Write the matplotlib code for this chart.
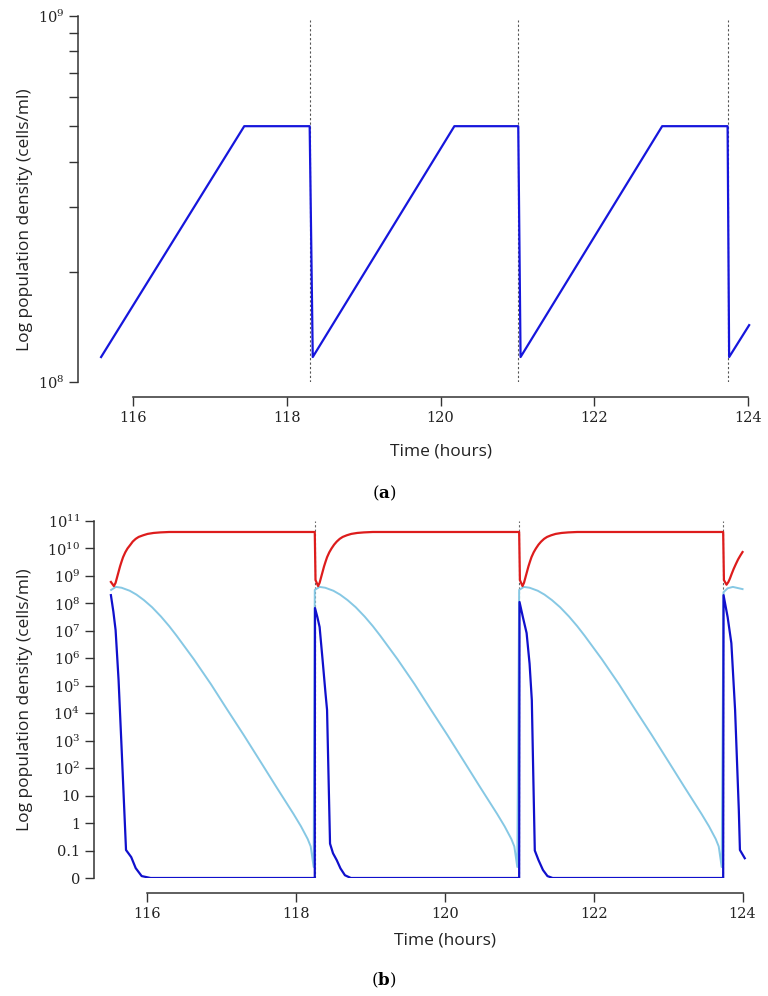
import numpy as np
import matplotlib
matplotlib.use("Agg")
import matplotlib.pyplot as plt
from matplotlib.ticker import FixedLocator, NullFormatter

plt.rcParams["mathtext.fontset"] = "dejavuserif"

# ---- panel (a): single population, values in cells/ml ----
a_time = [115.59, 117.45, 118.30, 118.34, 120.18, 121.01, 121.04,
          122.88, 123.73, 123.75, 124.01]
a_density = [1.17e8, 5.0e8, 5.0e8, 1.17e8, 5.0e8, 5.0e8, 1.17e8,
             5.0e8, 5.0e8, 1.17e8, 1.43e8]
a_dilutions = [118.30, 121.01, 123.73]

# ---- panel (b): three populations, log10 of cells/ml (-2 is drawn as "0") ----
red_time = [115.517, 115.557, 115.58, 115.60, 115.62, 115.64, 115.66, 115.68,
            115.71, 115.74, 115.78, 115.81, 115.85, 115.89, 115.95, 116.01,
            116.09, 116.18, 116.30, 118.255,
            118.265, 118.30, 118.32, 118.34, 118.36, 118.38, 118.40, 118.42,
            118.45, 118.48, 118.515, 118.55, 118.59, 118.63, 118.685, 118.745,
            118.825, 118.915, 119.035, 121.00,
            121.01, 121.045, 121.065, 121.085, 121.105, 121.125, 121.145, 121.165,
            121.195, 121.225, 121.26, 121.295, 121.335, 121.375, 121.43, 121.49,
            121.57, 121.66, 121.78, 123.74,
            123.75, 123.785, 123.81, 123.83, 123.855, 123.88, 123.91, 123.94,
            123.97, 124.00]
red_log = [8.78, 8.63, 8.75, 8.95, 9.15, 9.35, 9.52, 9.68,
           9.86, 10.00, 10.14, 10.25, 10.35, 10.42, 10.48, 10.53,
           10.565, 10.585, 10.60, 10.60,
           8.85, 8.63, 8.75, 8.95, 9.15, 9.35, 9.52, 9.68,
           9.86, 10.00, 10.14, 10.25, 10.35, 10.42, 10.48, 10.53,
           10.565, 10.585, 10.60, 10.60,
           8.85, 8.63, 8.75, 8.95, 9.15, 9.35, 9.52, 9.68,
           9.86, 10.00, 10.14, 10.25, 10.35, 10.42, 10.48, 10.53,
           10.565, 10.585, 10.60, 10.60,
           8.85, 8.68, 8.78, 8.90, 9.08, 9.25, 9.43, 9.60,
           9.74, 9.87]

sky_time = [115.52, 115.584, 115.66, 115.77, 115.86, 115.96, 116.07, 116.19,
            116.30, 116.40, 116.63, 116.86, 117.07, 117.30, 117.53, 117.74,
            117.97, 118.07, 118.16, 118.20, 118.24,
            118.255, 118.319, 118.395, 118.505, 118.595, 118.695, 118.805, 118.925,
            119.035, 119.135, 119.365, 119.595, 119.805, 120.035, 120.265, 120.475,
            120.705, 120.805, 120.895, 120.935, 120.975,
            121.00, 121.064, 121.14, 121.25, 121.34, 121.44, 121.55, 121.67,
            121.78, 121.88, 122.11, 122.34, 122.55, 122.78, 123.01, 123.22,
            123.45, 123.55, 123.64, 123.68, 123.72,
            123.745, 123.80, 123.87, 124.00]
sky_log = [8.49, 8.60, 8.57, 8.46, 8.32, 8.12, 7.86, 7.52,
           7.17, 6.82, 5.97, 5.06, 4.17, 3.21, 2.22, 1.31,
           0.33, -0.12, -0.58, -0.85, -1.60,
           8.49, 8.60, 8.57, 8.46, 8.32, 8.12, 7.86, 7.52,
           7.17, 6.82, 5.97, 5.06, 4.17, 3.21, 2.22, 1.31,
           0.33, -0.12, -0.58, -0.85, -1.60,
           8.49, 8.60, 8.57, 8.46, 8.32, 8.12, 7.86, 7.52,
           7.17, 6.82, 5.97, 5.06, 4.17, 3.21, 2.22, 1.31,
           0.33, -0.12, -0.58, -0.85, -1.60,
           8.41, 8.55, 8.60, 8.52]

blue_time = [115.517, 115.55, 115.58, 115.62, 115.66, 115.72, 115.79, 115.85,
             115.93, 116.05, 118.255,
             118.258, 118.29, 118.32, 118.36, 118.40, 118.42, 118.44, 118.46,
             118.50, 118.55, 118.60, 118.66, 118.74, 121.00,
             121.005, 121.05, 121.10, 121.14, 121.17, 121.19, 121.21, 121.26,
             121.32, 121.38, 121.45, 123.74,
             123.745, 123.80, 123.85, 123.90, 123.95, 123.965, 124.03]
blue_log = [8.30, 7.70, 7.03, 5.21, 2.77, -0.98, -1.24, -1.64,
            -1.93, -2.00, -2.00,
            7.83, 7.50, 7.14, 5.94, 4.70, 4.12, 1.68, -0.75,
            -1.10, -1.35, -1.65, -1.90, -2.00, -2.00,
            8.05, 7.50, 6.92, 5.80, 4.48, 1.70, -1.00, -1.35,
            -1.71, -1.93, -2.00, -2.00,
            8.30, 7.50, 6.55, 4.12, 0.48, -0.98, -1.28]
b_dilutions = [118.255, 121.00, 123.74]

b_tick_exp = list(range(-2, 12))
b_tick_labels = ["0", "0.1", "1", "10"] + [r"$10^{%d}$" % e for e in range(2, 12)]
x_ticks = [116, 118, 120, 122, 124]

W, H = 768, 996
fig = plt.figure(figsize=(W / 100, H / 100), dpi=100)

label_font = {"family": "Open Sans", "size": 12.5, "color": "#222222"}
tick_font = "DejaVu Serif"
axis_col = "#333333"
xlim = (115.29, 124.06)


def style_axes(ax, ybounds):
    ax.spines["top"].set_visible(False)
    ax.spines["right"].set_visible(False)
    ax.spines["bottom"].set_position(("outward", 10.8))
    ax.spines["bottom"].set_bounds(116, 124)
    ax.spines["left"].set_bounds(*ybounds)
    for s in ("left", "bottom"):
        ax.spines[s].set_color(axis_col)
        ax.spines[s].set_linewidth(1.1)
    ax.tick_params(which="both", direction="out", length=6.5, width=1.0,
                   color=axis_col, labelsize=10.5, labelcolor="#222222")
    ax.set_xticks(x_ticks)
    ax.set_xticklabels([str(t) for t in x_ticks], fontfamily=tick_font)
    ax.set_xlim(*xlim)


# panel (a)
ax1 = fig.add_axes([78 / W, (H - 382) / H, 675 / W, 366 / H])
ax1.set_yscale("log")
ax1.plot(a_time, a_density, color="#1616dc", linewidth=1.6, zorder=3)
ax1.vlines(a_dilutions, 1e8, 0.975e9, colors="#555555", linestyles=(0, (2, 2)),
           linewidth=0.8, zorder=2)
ax1.set_ylim(1e8, 1e9)
style_axes(ax1, (1e8, 1e9))
ax1.yaxis.set_major_locator(FixedLocator([1e8, 1e9]))
ax1.yaxis.set_minor_locator(FixedLocator([k * 1e8 for k in range(2, 10)]))
ax1.yaxis.set_minor_formatter(NullFormatter())
ax1.set_yticklabels([r"$10^{8}$", r"$10^{9}$"])
ax1.set_ylabel("Log population density (cells/ml)", fontdict=label_font)
ax1.yaxis.set_label_coords(-0.066, 0.443)
ax1.set_xlabel("Time (hours)", fontdict=label_font)
ax1.xaxis.set_label_coords((441 - 78) / 675, -0.168)
fig.text(384 / W, 1 - 493 / H, r"($\mathbf{a}$)", ha="center", va="center",
         fontsize=12, family="DejaVu Serif")

# panel (b)
ax2 = fig.add_axes([94 / W, (H - 878) / H, 653 / W, 357 / H])
ax2.set_yscale("log")
ax2.vlines(b_dilutions, 1e-2, 1e11, colors="#666666", linestyles=(0, (2, 2)),
           linewidth=0.8, zorder=1)
ax2.plot(red_time, 10 ** np.array(red_log), color="#dd1c1c", linewidth=1.6, zorder=3)
ax2.plot(sky_time, 10 ** np.array(sky_log), color="#86c8e4", linewidth=1.4, zorder=2)
ax2.plot(blue_time, 10 ** np.array(blue_log), color="#1010cc", linewidth=1.6, zorder=4)
ax2.set_ylim(1e-2, 1e11)
style_axes(ax2, (1e-2, 1e11))
ax2.yaxis.set_major_locator(FixedLocator([10.0 ** e for e in b_tick_exp]))
ax2.yaxis.set_minor_locator(FixedLocator([]))
ax2.set_yticklabels(b_tick_labels, fontfamily=tick_font)
ax2.set_ylabel("Log population density (cells/ml)", fontdict=label_font)
ax2.yaxis.set_label_coords((33 - 94) / 653, 0.5)
ax2.set_xlabel("Time (hours)", fontdict=label_font)
ax2.xaxis.set_label_coords((445 - 94) / 653, -0.153)
fig.text(384 / W, 1 - 980 / H, r"($\mathbf{b}$)", ha="center", va="center",
         fontsize=12, family="DejaVu Serif")

fig.savefig("out.png", dpi=100)
